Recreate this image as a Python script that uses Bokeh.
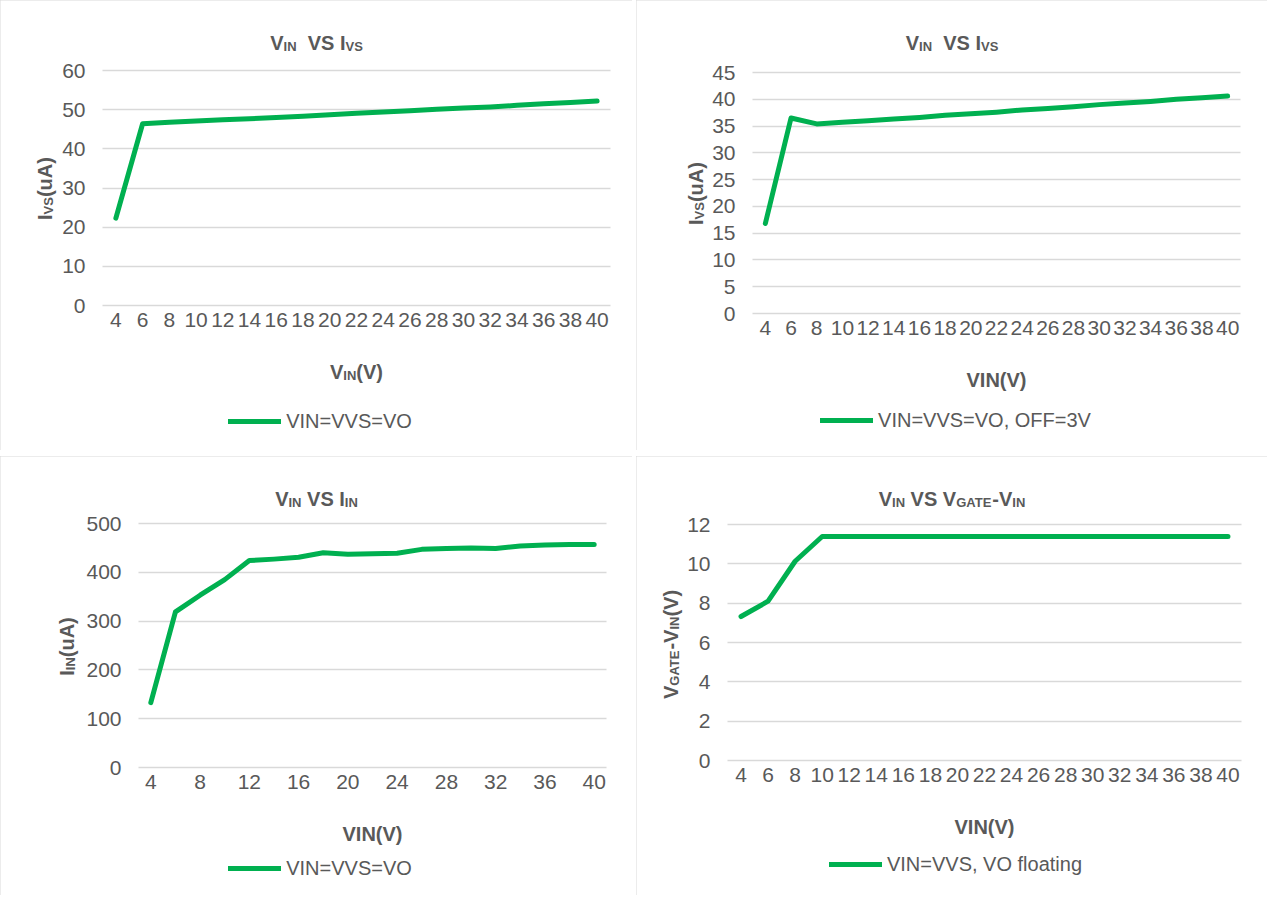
import math
from bokeh.plotting import figure
from bokeh.models import Range1d, FixedTicker, Label, Legend, LegendItem
from bokeh.layouts import column, row
from bokeh.embed import file_html
from bokeh.resources import INLINE

# ---------------- data ----------------
vin = [4, 6, 8, 10, 12, 14, 16, 18, 20, 22, 24, 26, 28, 30, 32, 34, 36, 38, 40]
xticks_all = [4, 6, 8, 10, 12, 14, 16, 18, 20, 22, 24, 26, 28, 30, 32, 34, 36, 38, 40]
xticks_every4 = [4, 8, 12, 16, 20, 24, 28, 32, 36, 40]

ivs_vo = [22.3, 46.4, 46.8, 47.1, 47.4, 47.7, 48.0, 48.3, 48.7, 49.1, 49.4, 49.7,
          50.1, 50.4, 50.7, 51.1, 51.5, 51.8, 52.2]
ivs_off = [16.8, 36.5, 35.4, 35.7, 36.0, 36.3, 36.6, 37.0, 37.3, 37.6, 38.0, 38.3,
           38.6, 39.0, 39.3, 39.6, 40.0, 40.3, 40.6]
iin = [133, 319, 353, 385, 424, 427, 431, 440, 437, 438, 439, 447, 449, 450, 449,
       454, 456, 457, 457]
vgate = [7.32, 8.1, 10.13, 11.39, 11.39, 11.39, 11.39, 11.39, 11.39, 11.39, 11.39,
         11.39, 11.39, 11.39, 11.39, 11.39, 11.39, 11.39, 11.39]

yticks1 = [0, 10, 20, 30, 40, 50, 60]
yticks2 = [0, 5, 10, 15, 20, 25, 30, 35, 40, 45]
yticks3 = [0, 100, 200, 300, 400, 500]
yticks4 = [0, 2, 4, 6, 8, 10, 12]

legend1 = "VIN=VVS=VO"
legend2 = "VIN=VVS=VO, OFF=3V"
legend3 = "VIN=VVS=VO"
legend4 = "VIN=VVS, VO floating"

X_MIN, X_MAX = 3, 41   # category band edges around 4 ... 40

# ---------------- styling ----------------
GREEN = "#00B050"
GRAY = "#595959"
GRID = "#D9D9D9"
FONT = "Liberation Sans"

W_REG = {" ": 278, "(": 333, ")": 333, "-": 333, "=": 584, ",": 278, "A": 667, "E": 667,
         "F": 611, "G": 778, "I": 278, "N": 722, "O": 778, "S": 667, "T": 611, "V": 667,
         "a": 556, "f": 278, "g": 556, "i": 222, "l": 222, "n": 556, "o": 556, "t": 278,
         "u": 556}
W_BOLD = {" ": 278, "(": 333, ")": 333, "-": 333, "A": 722, "E": 667, "G": 778, "I": 278,
          "N": 722, "S": 667, "T": 611, "V": 667, "u": 611}


def text_w(s, size, bold):
    tab = W_BOLD if bold else W_REG
    return sum(tab.get(c, 556) for c in s) * size / 1000.0


def rich(p, H, segs, bx, by, rotated=False, size=20, sub_size=13, shift=4):
    """Rich text with subscripts, in panel pixel coords (y down).
    Horizontal: bx = centre x, by = baseline y. Rotated: bx = baseline x, by = centre y."""
    total = sum(text_w(t, sub_size if s else size, True) for t, s in segs)
    pos = -total / 2.0
    for t, s in segs:
        sz = sub_size if s else size
        lead = len(t) - len(t.lstrip(" "))
        body = t.strip(" ")
        off = pos + text_w(" " * lead, sz, True)
        if body:
            if not rotated:
                x = bx + off
                y = H - (by + (shift if s else 0))
                ang = 0
            else:
                x = bx + (shift if s else 0)
                y = H - (by - off)
                ang = math.pi / 2
            p.add_layout(Label(x=x, y=y, x_units="screen", y_units="screen", text=body,
                               angle=ang, text_font=FONT, text_font_style="bold",
                               text_font_size=f"{sz}px", text_color=GRAY,
                               text_align="left", text_baseline="alphabetic"))
        pos += text_w(t, sz, True)


def make_panel(cfg, ys, y_top, yticks, xticks, legend_text, title_segs, ylab_segs,
               ylab_pos, xlab_segs, legend_dy):
    W, H, BL, BR, BT, BB = cfg
    # the figure's frame fills the whole panel; the data area sits inside it
    kx = (W - BL - BR) / float(X_MAX - X_MIN)
    ky = (H - BT - BB) / float(y_top)
    xr = Range1d(X_MIN - BL / kx, X_MAX + BR / kx)
    yr = Range1d(0 - BB / ky, y_top + BT / ky)
    p = figure(width=W, height=H, output_backend="svg", toolbar_location=None,
               x_range=xr, y_range=yr, min_border=0)
    p.title.visible = False
    p.styles = {"outline": f"2px solid {GRID}", "outline-offset": "-2px"}
    p.outline_line_color = None
    p.background_fill_color = "white"
    p.border_fill_color = "white"
    p.xgrid.visible = False
    p.ygrid.grid_line_color = GRID
    p.ygrid.grid_line_width = 1.5
    p.ygrid.cross_bounds = (X_MIN, X_MAX)
    p.yaxis.ticker = FixedTicker(ticks=yticks)
    p.xaxis.ticker = FixedTicker(ticks=xticks)
    p.xaxis.fixed_location = 0
    p.yaxis.fixed_location = X_MIN
    for ax in (p.xaxis[0], p.yaxis[0]):
        ax.axis_line_color = None
        ax.major_tick_line_color = None
        ax.minor_tick_line_color = None
        ax.major_tick_out = 0
        ax.major_tick_in = 0
        ax.minor_tick_out = 0
        ax.major_label_text_font = FONT
        ax.major_label_text_font_size = "21px"
        ax.major_label_text_color = GRAY
    p.xaxis.major_label_standoff = 7
    p.yaxis.major_label_standoff = 17

    r = p.line(vin, ys, line_color=GREEN, line_width=5, line_cap="round",
               line_join="round")

    fb = H - BB
    rich(p, H, title_segs, W / 2.0, 42)
    rich(p, H, ylab_segs, ylab_pos[0], ylab_pos[1], rotated=True)
    rich(p, H, xlab_segs, (BL + W - BR) / 2.0, fb + 66)

    gw, gh, stand = 53, 24, 5
    lw = gw + stand + text_w(legend_text, 20, False)
    lx = W / 2.0 + 4 - lw / 2.0
    cy = fb + legend_dy
    leg = Legend(items=[LegendItem(label=legend_text, renderers=[r])],
                 location=(lx, H - (cy + gh / 2.0)),
                 orientation="horizontal", border_line_color=None,
                 background_fill_alpha=0, padding=0, margin=0, spacing=0,
                 glyph_width=gw, glyph_height=gh, label_height=gh, label_standoff=stand,
                 label_text_font=FONT, label_text_font_size="20px",
                 label_text_color=GRAY)
    p.add_layout(leg)
    return p


cfg1 = (632, 450, 102, 22, 70, 145)
cfg2 = (631, 450, 116, 27, 72, 137)
cfg3 = (632, 439, 138, 26, 67, 128)
cfg4 = (631, 439, 91, 26, 68, 135)

p1 = make_panel(cfg1, ivs_vo, 60, yticks1, xticks_all, legend1,
                [("V", 0), ("IN", 1), ("  VS ", 0), ("I", 0), ("VS", 1)],
                [("I", 0), ("VS", 1), ("(uA)", 0)], (44, 188),
                [("V", 0), ("IN", 1), ("(V)", 0)], 116)
p2 = make_panel(cfg2, ivs_off, 45, yticks2, xticks_all, legend2,
                [("V", 0), ("IN", 1), ("  VS ", 0), ("I", 0), ("VS", 1)],
                [("I", 0), ("VS", 1), ("(uA)", 0)], (59, 193),
                [("VIN(V)", 0)], 107)
p3 = make_panel(cfg3, iin, 500, yticks3, xticks_every4, legend3,
                [("V", 0), ("IN", 1), (" VS ", 0), ("I", 0), ("IN", 1)],
                [("I", 0), ("IN", 1), ("(uA)", 0)], (66, 190),
                [("VIN(V)", 0)], 101)
p4 = make_panel(cfg4, vgate, 12, yticks4, xticks_all, legend4,
                [("V", 0), ("IN", 1), (" VS ", 0), ("V", 0), ("GATE", 1), ("-", 0),
                 ("V", 0), ("IN", 1)],
                [("V", 0), ("GATE", 1), ("-", 0), ("V", 0), ("IN", 1), ("(V)", 0)],
                (34, 188),
                [("VIN(V)", 0)], 104)

layout = column(row(p1, p2, spacing=4), row(p3, p4, spacing=4), spacing=6)

open("out.html", "w").write(file_html(layout, INLINE))
